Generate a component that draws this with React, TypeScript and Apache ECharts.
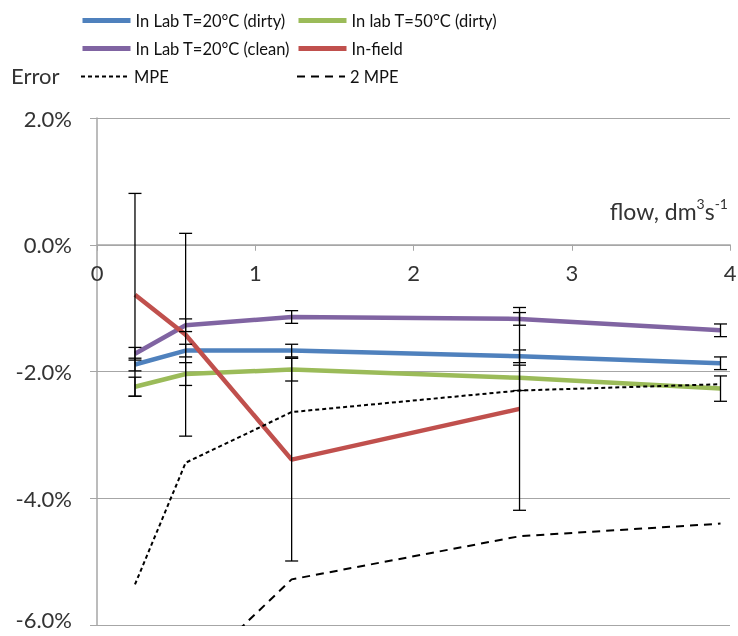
import React, { useEffect, useRef } from "react";
import * as echarts from "echarts";

const flow = [0.24, 0.56, 1.23, 2.67, 3.94];
const labDirty20 = [-1.89, -1.67, -1.67, -1.76, -1.87];
const labClean20 = [-1.72, -1.27, -1.14, -1.17, -1.35];
const labDirty50 = [-2.24, -2.04, -1.97, -2.1, -2.27];
const inField = [-0.79, -1.42, -3.39, -2.59];
const mpe = [-5.36, -3.44, -2.64, -2.3, -2.2];
const mpe2 = [-10.72, -6.88, -5.28, -4.6, -4.4];
const errDirty20 = [0.1, 0.1, 0.1, 0.1, 0.1];
const errClean20 = [0.1, 0.1, 0.1, 0.1, 0.1];
const errDirty50 = [0.15, 0.18, 0.18, 0.2, 0.2];
const errField = [1.6, 1.6, 1.6, 1.6];
const yTicks = { min: -6, max: 2, interval: 2 };
const xTicks = { min: 0, max: 4, interval: 1 };

const names = {
  d20: "In Lab T=20°C (dirty)",
  d50: "In lab T=50°C (dirty)",
  c20: "In Lab T=20°C (clean)",
  field: "In-field",
  mpe: "MPE",
  mpe2: "2 MPE",
};

const FONT = "Lato";

function pairs(xs: number[], ys: number[]) {
  return ys.map((y, i) => [xs[i], y]);
}
function bars(xs: number[], ys: number[], es: number[]) {
  return ys.map((y, i) => [xs[i], y - es[i], y + es[i]]);
}

export default function App() {
  const ref = useRef<HTMLDivElement>(null);
  useEffect(() => {
    if (!ref.current) return;
    const chart = echarts.init(ref.current, undefined, { renderer: "svg" });
    const H = 636;
    const gridTop = 118;
    const gridBottom = 11;
    const gridH = H - gridTop - gridBottom;
    // move the x axis up to the y = 0 line
    const xAxisOffset = -gridH * ((0 - yTicks.min) / (yTicks.max - yTicks.min));
    const lineSeries = (name: string, data: number[][], color: string, width: number, type: any) => ({
      name,
      type: "line",
      data,
      symbol: "none",
      lineStyle: { color, width, type },
      itemStyle: { color },
      z: 3,
    });
    const errData = [
      ...bars(flow, labDirty20, errDirty20),
      ...bars(flow, labClean20, errClean20),
      ...bars(flow, labDirty50, errDirty50),
      ...bars(flow, inField, errField),
    ];
    const legendCommon = {
      itemWidth: 48,
      itemHeight: 12,
      itemGap: 0,
      itemStyle: { opacity: 0 },
      textStyle: { fontFamily: FONT, fontSize: 16.5, color: "#111" },
      selectedMode: false,
    };
    const thick = { lineStyle: { width: 5 } };
    const thin = { lineStyle: { width: 2 } };
    const option: any = {
      animation: false,
      grid: { left: 97, right: 8, top: gridTop, bottom: gridBottom, containLabel: false, outerBoundsMode: "none" },
      legend: [
        { ...legendCommon, ...thick, left: 75, top: 7, data: [names.d20] },
        { ...legendCommon, ...thick, left: 291, top: 7, data: [names.d50] },
        { ...legendCommon, ...thick, left: 75, top: 35, data: [names.c20] },
        { ...legendCommon, ...thick, left: 291, top: 35, data: [names.field] },
        { ...legendCommon, ...thin, left: 75, top: 63, data: [names.mpe] },
        { ...legendCommon, ...thin, left: 291, top: 63, data: [names.mpe2] },
      ],
      xAxis: {
        type: "value",
        ...xTicks,
        position: "bottom",
        offset: xAxisOffset,
        axisLine: { onZero: false, lineStyle: { color: "#a6a6a6", width: 1.5 } },
        axisTick: { show: true, inside: false, length: 6, lineStyle: { color: "#a6a6a6" } },
        axisLabel: { fontFamily: FONT, fontSize: 22, color: "#333", margin: 17 },
        splitLine: { show: false },
      },
      yAxis: {
        type: "value",
        ...yTicks,
        axisLine: { show: true, onZero: false, lineStyle: { color: "#a6a6a6", width: 1.5 } },
        axisTick: { show: true, length: 7, lineStyle: { color: "#a6a6a6" } },
        axisLabel: {
          fontFamily: FONT,
          fontSize: 22,
          color: "#333",
          margin: 25,
          formatter: (v: number) => {
            const t = v.toFixed(1) + "%";
            return v === yTicks.min ? "{low|" + t + "}" : t;
          },
          rich: {
            low: { fontFamily: FONT, fontSize: 22, color: "#333", padding: [0, 0, 12, 0] },
          },
        },
        splitLine: { show: true, lineStyle: { color: "#a6a6a6", width: 1.2 } },
      },
      graphic: [
        {
          type: "text",
          left: 11,
          top: 64,
          style: { text: "Error", fontFamily: FONT, fontSize: 22, fill: "#333" },
        },
        {
          type: "text",
          right: 10,
          top: 196,
          style: {
            text: "{a|flow, dm}{s|3}{a|s}{s|-1}",
            fill: "#333",
            rich: {
              a: { fontFamily: FONT, fontSize: 23, lineHeight: 29, fill: "#333" },
              s: { fontFamily: FONT, fontSize: 14, verticalAlign: "top", lineHeight: 29, fill: "#333" },
            },
          },
        },
      ],
      series: [
        lineSeries(names.d20, pairs(flow, labDirty20), "#4F81BD", 4.5, "solid"),
        lineSeries(names.d50, pairs(flow, labDirty50), "#9BBB59", 4.5, "solid"),
        lineSeries(names.c20, pairs(flow, labClean20), "#8064A2", 4.5, "solid"),
        lineSeries(names.field, pairs(flow, inField), "#C0504D", 4.5, "solid"),
        lineSeries(names.mpe, pairs(flow, mpe), "#000", 2, [4, 3]),
        lineSeries(names.mpe2, pairs(flow, mpe2), "#000", 2, [8, 6]),
        {
          name: "errors",
          type: "custom",
          data: errData,
          encode: { x: 0, y: [1, 2] },
          z: 5,
          renderItem: (params: any, api: any) => {
            const x = api.value(0);
            const lo = api.value(1);
            const hi = api.value(2);
            const p1 = api.coord([x, hi]);
            const p2 = api.coord([x, lo]);
            const w = 6.5;
            const style = { stroke: "#000", lineWidth: 1.3 };
            return {
              type: "group",
              children: [
                { type: "line", shape: { x1: p1[0], y1: p1[1], x2: p2[0], y2: p2[1] }, style },
                { type: "line", shape: { x1: p1[0] - w, y1: p1[1], x2: p1[0] + w, y2: p1[1] }, style },
                { type: "line", shape: { x1: p2[0] - w, y1: p2[1], x2: p2[0] + w, y2: p2[1] }, style },
              ],
            };
          },
        },
      ],
    };
    chart.setOption(option);
    return () => chart.dispose();
  }, []);
  return <div ref={ref} style={{ position: "fixed", left: 0, top: 0, width: 738, height: 636 }} />;
}
